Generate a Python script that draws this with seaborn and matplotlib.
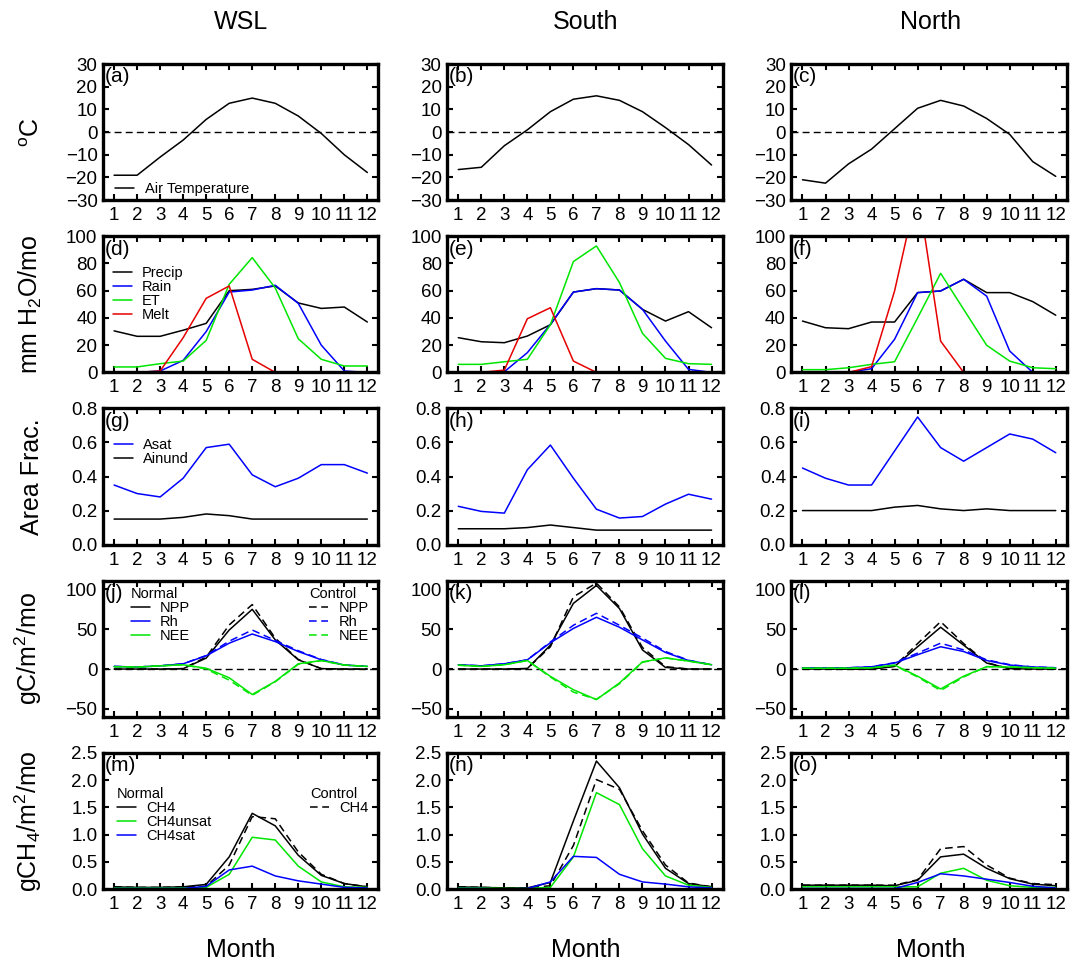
# Monthly climate / hydrology / carbon / methane panels for WSL, South and North

import numpy as np
import matplotlib
matplotlib.use("Agg")
import matplotlib.pyplot as plt
from matplotlib.lines import Line2D
import seaborn as sns

months = list(range(1, 13))
regions = ["WSL", "South", "North"]

# air temperature (degC)
tair = {
    "WSL":   [-19, -19, -11, -3.5, 5.6, 12.7, 15, 12.7, 7.1, -0.6, -10, -17.8],
    "South": [-16.5, -15.5, -6, 1, 9, 14.5, 16, 14, 9, 2, -5.5, -14.5],
    "North": [-21, -22.5, -14, -7.5, 1.5, 10.5, 14, 11.5, 6, -1, -13, -19.5],
}

# water fluxes (mm H2O/mo)
precip = {
    "WSL":   [30.5, 26.5, 26.5, 31, 36, 60, 61, 63.5, 51, 47, 48, 37],
    "South": [25.5, 22.5, 21.8, 26.7, 35, 59, 61.5, 60.5, 46.3, 37.7, 44.6, 32.8],
    "North": [37.7, 32.8, 32.1, 37, 37, 58.6, 59.8, 68.4, 58.6, 58.6, 52, 42],
}
rain = {
    "WSL":   [0, 0, 1, 8.8, 30, 59, 60.5, 64, 50.7, 20, 1, 0],
    "South": [0, 0, 0.5, 14.5, 35.3, 59, 61.5, 60.5, 46.3, 23, 2.2, 0],
    "North": [0, 0, 0, 2.7, 24.3, 58.6, 59.8, 68.4, 56, 15.7, 0, 0],
}
et = {
    "WSL":   [4, 4, 6.4, 8.3, 23.5, 64.7, 84.3, 62, 24.7, 9.6, 4.7, 4.7],
    "South": [5.9, 5.9, 7.8, 9.6, 35, 81.4, 92.9, 66, 28.7, 10.3, 6.4, 5.9],
    "North": [2, 2, 3.4, 5.9, 7.8, 40, 72.8, 46.3, 19.9, 8.3, 3.4, 2.7],
}
melt = {
    "WSL":   [0, 0, 1, 25.5, 54.4, 63.5, 9.6, 0, 0, 0, 0, 0],
    "South": [0, 0, 1.7, 39.4, 47.5, 8.3, 0, 0, 0, 0, 0, 0],
    "North": [0, 0, 0, 4.2, 59.8, 135, 23, 0, 0, 0, 0, 0],
}

# area fractions
asat = {
    "WSL":   [0.35, 0.30, 0.28, 0.39, 0.57, 0.59, 0.41, 0.34, 0.39, 0.47, 0.47, 0.42],
    "South": [0.225, 0.195, 0.185, 0.44, 0.585, 0.39, 0.208, 0.156, 0.165, 0.238, 0.296, 0.267],
    "North": [0.45, 0.39, 0.35, 0.35, 0.55, 0.75, 0.57, 0.49, 0.57, 0.65, 0.62, 0.54],
}
ainund = {
    "WSL":   [0.15, 0.15, 0.15, 0.16, 0.18, 0.17, 0.15, 0.15, 0.15, 0.15, 0.15, 0.15],
    "South": [0.093, 0.093, 0.093, 0.10, 0.115, 0.10, 0.085, 0.085, 0.085, 0.085, 0.085, 0.085],
    "North": [0.20, 0.20, 0.20, 0.20, 0.22, 0.23, 0.21, 0.20, 0.21, 0.20, 0.20, 0.20],
}

# carbon fluxes (gC/m2/mo), normal and control runs
npp = {
    "WSL":   [0, 0, 0, 0.5, 13.7, 49, 75, 36.6, 11.6, 0.5, 0, 0],
    "South": [0, 0, 0, 0.6, 30, 82.5, 105, 76, 24, 2, 0, 0],
    "North": [0, 0, 0, 0, 3.3, 28, 52.5, 30, 7.5, 0.5, 0, 0],
}
npp_ctl = {
    "WSL":   [0, 0, 0, 0.5, 15, 55.4, 81, 38.7, 12, 0.5, 0, 0],
    "South": [0, 0, 0, 0.6, 28, 90.7, 108, 78, 27, 3, 0, 0],
    "North": [0, 0, 0, 0, 3.5, 32, 59.5, 32, 8, 0.5, 0, 0],
}
rh = {
    "WSL":   [3.3, 2.5, 4, 6.6, 16.6, 32.5, 44, 34.5, 22, 11.6, 5, 3.3],
    "South": [5.4, 4, 6.6, 11.6, 33, 51, 65, 52.5, 36.6, 20.8, 10.7, 5.4],
    "North": [1.6, 1.6, 1.6, 2.8, 7.5, 18, 28, 22, 10.7, 5, 2.6, 1.6],
}
rh_ctl = {
    "WSL":   [3.3, 2.5, 4, 6.6, 17, 35, 49, 36, 23, 12, 5, 3.3],
    "South": [5.4, 4, 6.6, 11.6, 34, 55, 70, 55, 39, 22, 11, 5.4],
    "North": [1.6, 1.6, 1.6, 2.8, 8, 20, 32.5, 24, 11.5, 5.5, 2.6, 1.6],
}
nee = {
    "WSL":   [3, 2.5, 4, 5.4, 1, -11, -32, -15.5, 6.6, 10.7, 5, 3.3],
    "South": [4.8, 3.3, 5.4, 10.7, -9.2, -26, -38.4, -17.5, 9, 14, 10, 5.4],
    "North": [1, 1, 1, 1.5, 5, -9, -25, -9, 3, 2.5, 1.7, 1],
}
nee_ctl = {
    "WSL":   [3, 2.5, 4, 5.4, 0, -14, -33, -16, 6, 10.5, 5, 3.3],
    "South": [4.8, 3.3, 5.4, 10.7, -10, -29, -38, -18.5, 8.5, 14, 10, 5.4],
    "North": [1, 1, 1, 1.5, 4.5, -10, -27, -10, 3, 2.5, 1.7, 1],
}

# methane fluxes (gCH4/m2/mo)
ch4 = {
    "WSL":   [0.04, 0.03, 0.03, 0.04, 0.085, 0.59, 1.39, 1.16, 0.62, 0.25, 0.10, 0.04],
    "South": [0.04, 0.03, 0.02, 0.02, 0.12, 1.25, 2.35, 1.86, 1.01, 0.38, 0.10, 0.04],
    "North": [0.07, 0.07, 0.07, 0.07, 0.06, 0.16, 0.59, 0.64, 0.38, 0.19, 0.09, 0.06],
}
ch4_ctl = {
    "WSL":   [0.04, 0.03, 0.03, 0.04, 0.05, 0.44, 1.33, 1.29, 0.68, 0.27, 0.10, 0.04],
    "South": [0.04, 0.03, 0.02, 0.02, 0.06, 0.80, 2.01, 1.83, 1.07, 0.44, 0.11, 0.04],
    "North": [0.07, 0.07, 0.07, 0.07, 0.07, 0.17, 0.74, 0.78, 0.44, 0.20, 0.10, 0.08],
}
ch4unsat = {
    "WSL":   [0.02, 0.02, 0.02, 0.02, 0.03, 0.27, 0.95, 0.90, 0.42, 0.13, 0.04, 0.03],
    "South": [0.02, 0.02, 0.01, 0.01, 0.03, 0.59, 1.77, 1.55, 0.74, 0.24, 0.07, 0.03],
    "North": [0.04, 0.04, 0.04, 0.04, 0.04, 0.04, 0.29, 0.38, 0.16, 0.06, 0.03, 0.03],
}
ch4sat = {
    "WSL":   [0.01, 0.01, 0.01, 0.01, 0.05, 0.35, 0.42, 0.24, 0.15, 0.09, 0.03, 0.02],
    "South": [0.01, 0.01, 0.0, 0.01, 0.13, 0.60, 0.58, 0.27, 0.13, 0.09, 0.04, 0.02],
    "North": [0.01, 0.01, 0.01, 0.01, 0.01, 0.12, 0.28, 0.24, 0.18, 0.12, 0.05, 0.02],
}

panel_letters = "abcdefghijklmno"
ylabels = ["$^{o}$C", "mm H$_2$O/mo", "Area Frac.", "gC/m$^2$/mo", "gCH$_4$/m$^2$/mo"]

BLUE = "#0000ff"
GREEN = "#00e600"
RED = "#e60000"
DASH = (0, (5, 3))
LW = 1.1

sns.set_style("ticks")
plt.rcParams["font.family"] = ["Liberation Sans", "DejaVu Sans"]
plt.rcParams["mathtext.fontset"] = "custom"
plt.rcParams["mathtext.rm"] = "Liberation Sans"
plt.rcParams["mathtext.it"] = "Liberation Sans"
plt.rcParams["mathtext.default"] = "regular"
for key in ["text.color", "axes.labelcolor", "xtick.color", "ytick.color", "axes.edgecolor"]:
    plt.rcParams[key] = "black"

fig, axes = plt.subplots(5, 3, figsize=(10.7, 9.66), dpi=100)
fig.subplots_adjust(left=0.0963, right=0.997, top=0.9337, bottom=0.0797,
                    wspace=0.25, hspace=0.265)


def line(ax, y, color, ls="-"):
    sns.lineplot(x=months, y=y, ax=ax, color=color, linewidth=LW, linestyle=ls)


for j, reg in enumerate(regions):
    # row 1: temperature
    ax = axes[0, j]
    ax.axhline(0, color="k", lw=1, ls=DASH)
    line(ax, tair[reg], "k")
    ax.set_ylim(-30, 30)
    ax.set_yticks(range(-30, 31, 10))

    # row 2: water
    ax = axes[1, j]
    line(ax, precip[reg], "k")
    line(ax, rain[reg], BLUE)
    line(ax, et[reg], GREEN)
    line(ax, melt[reg], RED)
    ax.set_ylim(0, 100)
    ax.set_yticks(range(0, 101, 20))

    # row 3: area fractions
    ax = axes[2, j]
    line(ax, asat[reg], BLUE)
    line(ax, ainund[reg], "k")
    ax.set_ylim(0, 0.8)
    ax.set_yticks(np.arange(0, 0.81, 0.2))
    ax.set_yticklabels([f"{v:.1f}" for v in np.arange(0, 0.81, 0.2)])

    # row 4: carbon
    ax = axes[3, j]
    ax.axhline(0, color="k", lw=1, ls=DASH)
    line(ax, npp[reg], "k")
    line(ax, npp_ctl[reg], "k", DASH)
    line(ax, rh[reg], BLUE)
    line(ax, rh_ctl[reg], BLUE, DASH)
    line(ax, nee[reg], GREEN)
    line(ax, nee_ctl[reg], GREEN, DASH)
    ax.set_ylim(-60, 111)
    ax.set_yticks([-50, 0, 50, 100])

    # row 5: methane
    ax = axes[4, j]
    line(ax, ch4[reg], "k")
    line(ax, ch4_ctl[reg], "k", DASH)
    line(ax, ch4unsat[reg], GREEN)
    line(ax, ch4sat[reg], BLUE)
    ax.set_ylim(0, 2.5)
    ax.set_yticks(np.arange(0, 2.51, 0.5))
    ax.set_yticklabels([f"{v:.1f}" for v in np.arange(0, 2.51, 0.5)])

    xc = 0.0963 + 0.258 / 2 + j * (0.4187 - 0.0963)
    fig.text(xc, 1 - 22 / 966, reg, ha="center", va="center", fontsize=18)
    fig.text(xc, 1 - 950 / 966, "Month", ha="center", va="center", fontsize=18)

for i in range(5):
    for j in range(3):
        ax = axes[i, j]
        ax.set_xlim(0.52, 12.48)
        ax.set_xticks(months)
        ax.set_xticklabels([str(m) for m in months])
        ax.set_xlabel("")
        ax.set_ylabel("")
        ax.tick_params(direction="in", top=True, right=True, length=4.5, width=1.5,
                       labelsize=13.5, pad=4)
        ax.tick_params(axis="x", pad=5)
        for sp in ax.spines.values():
            sp.set_visible(True)
            sp.set_linewidth(2.4)
        ax.text(0.005, 0.975, f"({panel_letters[i * 3 + j]})", transform=ax.transAxes,
                ha="left", va="top", fontsize=15)
    axes[i, 0].set_ylabel(ylabels[i], fontsize=18)
    axes[i, 0].yaxis.set_label_coords(-0.215, 0.5)

# legends
leg_kw = dict(frameon=False, fontsize=10.5, handlelength=1.3, handletextpad=0.7,
              labelspacing=0.0, borderpad=0, borderaxespad=0)

ax = axes[0, 0]
ax.legend([Line2D([], [], color="k", lw=LW)], ["Air Temperature"],
          loc="lower left", bbox_to_anchor=(0.045, 0.03), **leg_kw)

ax = axes[1, 0]
ax.legend([Line2D([], [], color=c, lw=LW) for c in ["k", BLUE, GREEN, RED]],
          ["Precip", "Rain", "ET", "Melt"],
          loc="upper left", bbox_to_anchor=(0.035, 0.78), **leg_kw)

ax = axes[2, 0]
ax.legend([Line2D([], [], color=c, lw=LW) for c in [BLUE, "k"]],
          ["Asat", "Ainund"],
          loc="upper left", bbox_to_anchor=(0.04, 0.78), **leg_kw)

ax = axes[3, 0]
lg1 = ax.legend([Line2D([], [], color=c, lw=LW) for c in ["k", BLUE, GREEN]],
                ["NPP", "Rh", "NEE"], title="Normal", title_fontsize=10.5,
                alignment="left", loc="upper left", bbox_to_anchor=(0.1, 0.95), **leg_kw)
ax.add_artist(lg1)
ax.legend([Line2D([], [], color=c, lw=LW, ls=DASH) for c in ["k", BLUE, GREEN]],
          ["NPP", "Rh", "NEE"], title="Control", title_fontsize=10.5,
          alignment="left", loc="upper right", bbox_to_anchor=(0.965, 0.95), **leg_kw)

ax = axes[4, 0]
lg2 = ax.legend([Line2D([], [], color=c, lw=LW) for c in ["k", GREEN, BLUE]],
                ["CH4", "CH4unsat", "CH4sat"], title="Normal", title_fontsize=10.5,
                alignment="left", loc="upper left", bbox_to_anchor=(0.05, 0.75), **leg_kw)
ax.add_artist(lg2)
ax.legend([Line2D([], [], color="k", lw=LW, ls=DASH)], ["CH4"], title="Control",
          title_fontsize=10.5, alignment="left", loc="upper right",
          bbox_to_anchor=(0.965, 0.75), **leg_kw)

plt.savefig("out.png", dpi=100)
plt.close()
